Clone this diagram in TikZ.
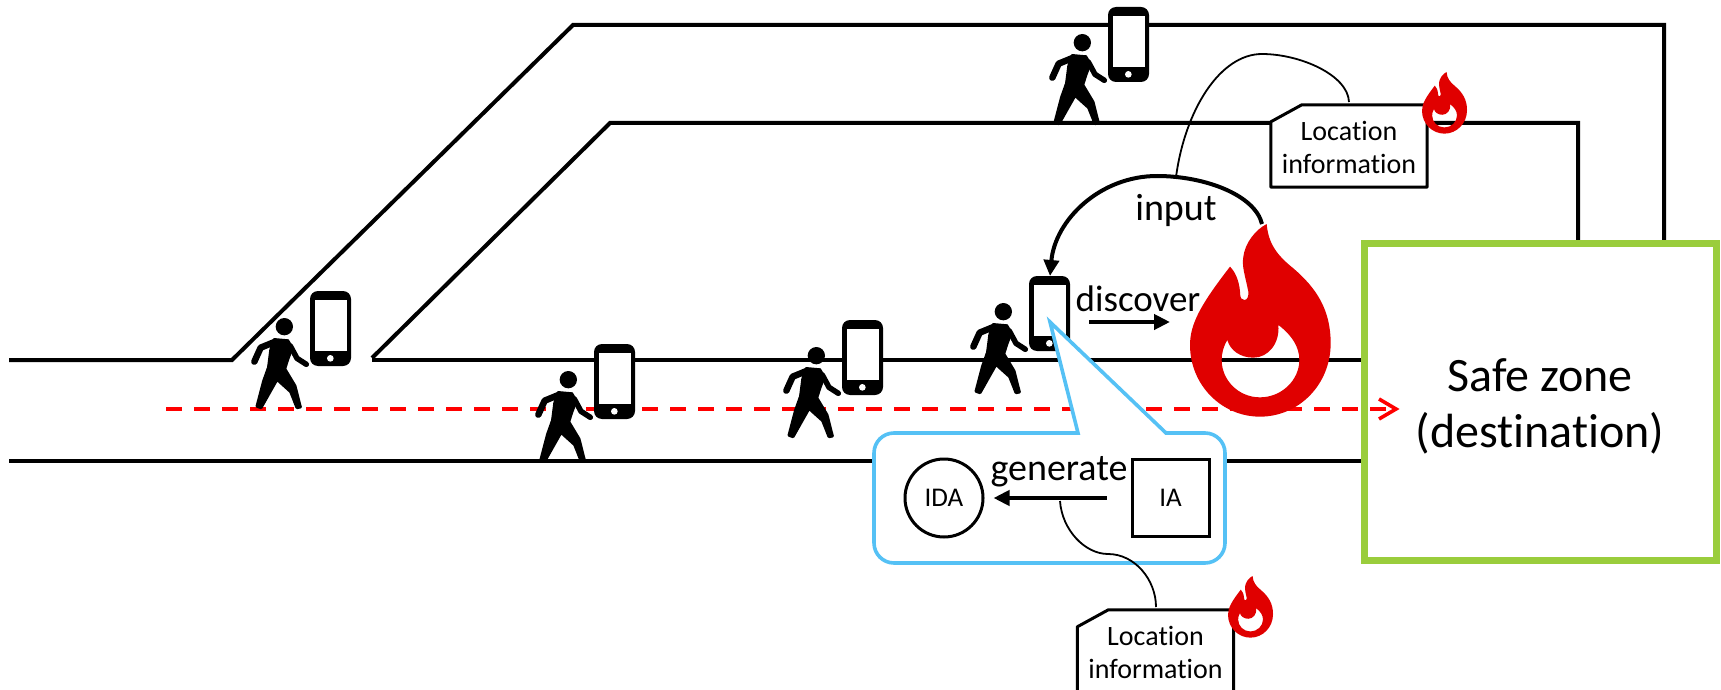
\documentclass[tikz,border=0pt]{standalone}
\usepackage{fontspec}
\setmainfont{Carlito}[Ligatures=NoCommon]
\usetikzlibrary{arrows.meta}
\definecolor{fire}{HTML}{E00000}
\definecolor{zone}{HTML}{9ACD3C}
\definecolor{callout}{HTML}{55C1F5}
\definecolor{route}{HTML}{FF0000}
\newcommand{\docoutline}[1]{\draw[docline] ([xshift=31pt]#1.north west) -- (#1.north east) -- (#1.south east) -- (#1.south west) -- ([yshift=-17pt]#1.north west) -- cycle;}
\tikzset{
  wall/.style={line width=4pt,line join=miter},
  flow/.style={line width=4pt,-{Triangle[length=16pt,width=15pt]}},
  thin link/.style={line width=1.8pt},
  docbox/.style={minimum width=156pt,minimum height=82pt,inner sep=0pt},
  docline/.style={draw,fill=white,line width=3pt,line join=round},
  doctext/.style={align=center,inner sep=0pt,font=\fontsize{28}{33}\selectfont},
  walker/.pic={
    \begin{scope}[scale=1/3,shift={(-444,-20)}]
      \fill[black] (335,161) -- (380,165) -- (395,190) -- (382,225) -- (370,262) -- (345,292) -- (310,290) -- (322,195) -- cycle;
      \draw[black,line width=6.5pt,line cap=round,line join=round] (277,232) -- (296,190) -- (340,172);
      \draw[black,line width=5.5pt,line cap=round,line join=round] (385,185) -- (405,222) -- (433,240);
      \filldraw[black,line width=3pt,line join=round] (323,240) -- (369,255) -- (399,305) -- (415,368) -- (405,370) -- (386,322) -- (345,285) -- (297,370) -- (285,366) -- (305,290) -- cycle;
      \fill[black] (367,127) circle (26);
      \fill[black,rounded corners=8pt] (444,20) rectangle (567,245);
      \fill[white] (458,48) rectangle (554,200);
      \fill[white] (505,222) circle (10);
    \end{scope}
  },
  flame/.pic={
    \begin{scope}[scale=1/3,shift={(-750,-72)}]
      \fill[fire,even odd rule] (980,72) .. controls (985,130) and (1010,165) .. (1060,205) .. controls (1130,265) and (1172,330) .. (1172,430) .. controls (1172,555) and (1075,650) .. (960,650) .. controls (845,650) and (750,555) .. (750,435) .. controls (750,370) and (785,310) .. (870,200) .. controls (885,215) and (897,240) .. (900,275) .. controls (900,295) and (905,300) .. (913,300) .. controls (922,300) and (926,290) .. (925,275) .. controls (915,225) and (905,200) .. (910,170) .. controls (915,130) and (945,90) .. (980,72) -- cycle
      (1015,375) .. controls (1055,405) and (1078,440) .. (1078,480) .. controls (1078,540) and (1025,592) .. (960,592) .. controls (895,592) and (845,540) .. (845,480) .. controls (845,460) and (850,440) .. (862,420) .. controls (870,450) and (900,473) .. (940,473) .. controls (985,473) and (1020,430) .. (1015,375) -- cycle;
    \end{scope}
  }
}
\begin{document}
\begin{tikzpicture}[x=1pt,y=-1pt]
\useasboundingbox (0,0) rectangle (1721,690);
\clip (0,0) rectangle (1721,690);
% corridors
\draw[wall] (9,360) -- (232,360) -- (573,25) -- (1664,25) -- (1664,240);
\draw[wall] (372,358) -- (610,123) -- (1578,123) -- (1578,240);
\draw[wall] (372,360) -- (1362,360);
\draw[wall] (9,461) -- (1362,461);
% route
\coordinate (routestart) at (166,409);
\draw[route,line width=3.6pt,dash pattern=on 16pt off 12pt] (routestart) -- (1396,409);
% people with phones
\pic at (310,291) {walker};
\pic at (594,344) {walker};
\pic at (842,320) {walker};
\pic at (1029,276) {walker};
\pic at (1108,7) {walker};
% safe zone
\node[draw=zone,line width=7pt,minimum width=352pt,minimum height=317pt,inner sep=0pt] (zone) at (1540,401.5) {};
\node[align=center,font=\fontsize{48}{56}\selectfont] (zonetext) at (1540,406) {Safe zone\\(destination)};
\draw[route,line width=3.6pt,line join=miter] (1379,399) -- (1396,409) -- (1379,419);
% big fire
\pic at (1190,224) {flame};
% callout
\draw[callout,fill=white,line width=3.6pt,line join=miter] (1078,433) -- (1050,322) -- (1166,433) -- (1205,433) arc[start angle=-90,end angle=0,radius=20] -- (1225,543) arc[start angle=0,end angle=90,radius=20] -- (894,563) arc[start angle=90,end angle=180,radius=20] -- (874,453) arc[start angle=180,end angle=270,radius=20] -- cycle;
% callout content
\node[draw,circle,line width=3pt,minimum size=78pt,inner sep=0pt,font=\fontsize{27}{30}\selectfont] (ida) at (944,498) {IDA};
\node[draw,line width=3pt,minimum size=77pt,inner sep=0pt,font=\fontsize{27}{30}\selectfont] (ia) at (1170.5,498) {IA};
\draw[flow] ([xshift=-24pt]ia.west) -- ([xshift=9pt]ida.east);
\node[font=\fontsize{38}{40}\selectfont,anchor=base] (gen) at (1059,480) {generate};
% discover and input
\coordinate (discstart) at (1089,322);
\coordinate (discend) at (1170,322);
\draw[flow] (discstart) -- (discend);
\node[font=\fontsize{37}{40}\selectfont,anchor=base] (disc) at (1138,311) {discover};
\coordinate (firetip) at (1262,224);
\coordinate (phonetop) at (1050,276);
\draw[flow] (firetip) .. controls (1255,195) and (1205,176) .. (1157,176) .. controls (1100,176) and (1055,220) .. (phonetop);
\node[font=\fontsize{38}{40}\selectfont,anchor=base] (inp) at (1176,220) {input};
% location information
\node[docbox] (doca) at (1349,146) {};
\docoutline{doca}
\node[doctext] (docatext) at (1349,147) {Location\hspace{5pt}\\information};
\node[docbox] (docb) at (1155.5,651) {};
\docoutline{docb}
\node[doctext] (docbtext) at (1155.5,652) {Location\hspace{5pt}\\information};
\pic[scale=0.32] at (1422,72) {flame};
\pic[scale=0.32] at (1228,576) {flame};
% thin links
\coordinate (inputtop) at (1176,177);
\coordinate (genmid) at (1060,501);
\draw[thin link] (inputtop) .. controls (1185,110) and (1220,54) .. (1262,54) .. controls (1300,54) and (1348,75) .. (1349,102);
\draw[thin link] (genmid) .. controls (1062,530) and (1085,554) .. (1108,554) .. controls (1135,554) and (1156,580) .. (1156,607);
\end{tikzpicture}
\end{document}
